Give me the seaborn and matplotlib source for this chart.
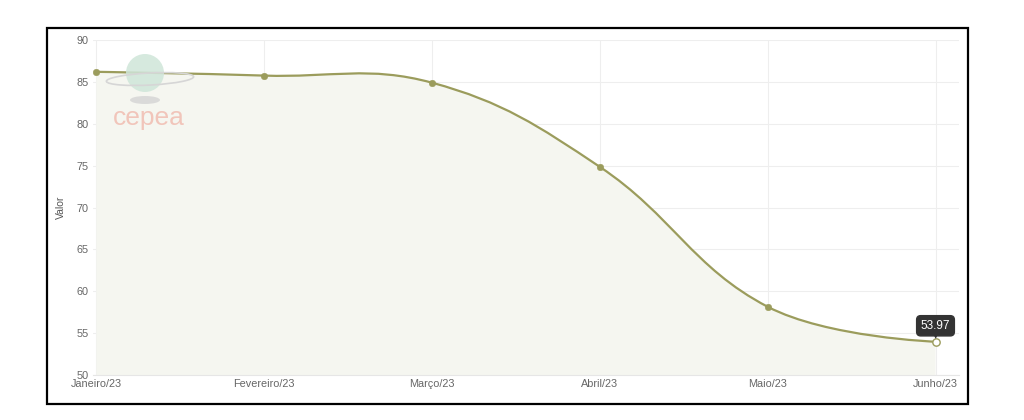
import numpy as np
import matplotlib
matplotlib.use('Agg')
import matplotlib.pyplot as plt
import seaborn as sns
from matplotlib.path import Path
from matplotlib.patches import PathPatch, Rectangle, Ellipse

meses = ['Janeiro/23', 'Fevereiro/23', 'Março/23', 'Abril/23', 'Maio/23', 'Junho/23']
valores = [86.2, 85.75, 84.9, 74.85, 58.15, 53.97]
yticks = [50, 55, 60, 65, 70, 75, 80, 85, 90]

linha = '#9b9c5c'
preench = '#f5f6f0'

sns.set_theme(style='white')
plt.rcParams['font.family'] = ['Liberation Sans', 'DejaVu Sans']

fig = plt.figure(figsize=(10.24, 4.2), dpi=100)
ax = fig.add_axes([93 / 1024, 1 - 375 / 420, (959 - 93) / 1024, (375 - 40) / 420])

x = np.arange(len(valores), dtype=float)
y = np.array(valores, dtype=float)

# escala aproximada em pixels (para distancias do spline)
px_x, px_y = 168.0, 8.375


# controles de bezier no estilo chart.js (tension 0.4)
def spline_path(x, y, t=0.4):
    n = len(x)
    P = np.column_stack([x * px_x, y * px_y])
    lc = [P[i] for i in range(n)]
    rc = [P[i] for i in range(n)]
    for i in range(1, n - 1):
        d01 = np.linalg.norm(P[i] - P[i - 1])
        d12 = np.linalg.norm(P[i + 1] - P[i])
        s01 = d01 / (d01 + d12)
        s12 = d12 / (d01 + d12)
        lc[i] = P[i] - t * s01 * (P[i + 1] - P[i - 1])
        rc[i] = P[i] + t * s12 * (P[i + 1] - P[i - 1])
    tod = lambda p: (p[0] / px_x, p[1] / px_y)
    verts = [tod(P[0])]
    codes = [Path.MOVETO]
    for i in range(1, n):
        verts += [tod(rc[i - 1]), tod(lc[i]), tod(P[i])]
        codes += [Path.CURVE4] * 3
    return verts, codes


verts, codes = spline_path(x, y)
fv = verts + [(x[-1], 50), (x[0], 50), (x[0], y[0])]
fc = codes + [Path.LINETO, Path.LINETO, Path.CLOSEPOLY]
ax.add_patch(PathPatch(Path(fv, fc), facecolor=preench, edgecolor='none', zorder=1))
ax.add_patch(PathPatch(Path(verts, codes), facecolor='none', edgecolor=linha, lw=1.6, zorder=3))

sns.scatterplot(x=x[:-1], y=y[:-1], ax=ax, color=linha, s=22, edgecolor=linha, zorder=4, legend=False)
ax.scatter([x[-1]], [y[-1]], s=28, facecolor='white', edgecolor=linha, lw=1, zorder=5)

ax.set_xlim(-0.02, 5.14)
ax.set_ylim(50, 90)
ax.set_xticks(x)
ax.set_xticklabels(meses)
ax.set_yticks(yticks)
ax.tick_params(axis='both', labelsize=7.8, colors='#666666', length=0, pad=3)
ax.set_ylabel('Valor', fontsize=7.5, color='#555555', labelpad=8)
ax.grid(True, color='#eeeeee', lw=0.8)
ax.set_axisbelow(True)
for s in ax.spines.values():
    s.set_visible(False)
ax.spines['bottom'].set_visible(True)
ax.spines['bottom'].set_color('#e6e6e6')
ax.spines['bottom'].set_linewidth(0.8)

# tooltip
ax.annotate(f'{valores[-1]:.2f}', xy=(x[-1], y[-1]), xytext=(0, 11.5), textcoords='offset points',
            ha='center', va='center', fontsize=8.5, color='white',
            bbox=dict(boxstyle='round,pad=0.35', fc='#333333', ec='#333333'), zorder=6)
ax.annotate('▼', xy=(x[-1], y[-1]), xytext=(0, 4.3), textcoords='offset points',
            ha='center', va='center', fontsize=5, color='#333333', zorder=6,
            family='DejaVu Sans')

# marca d'agua cepea
fig.patches.append(Ellipse((145 / 1024, 1 - 73 / 420), 38 / 1024, 38 / 420, transform=fig.transFigure,
                           facecolor='#cfe6d9', edgecolor='none', alpha=0.85, zorder=0))
fig.patches.append(Ellipse((150 / 1024, 1 - 79 / 420), 88 / 1024, 12 / 420, angle=8,
                           transform=fig.transFigure, facecolor='none', edgecolor='#d6d6d6',
                           lw=1.2, zorder=0))
fig.patches.append(Ellipse((145 / 1024, 1 - 100 / 420), 30 / 1024, 8 / 420, transform=fig.transFigure,
                           facecolor='#d4d4d4', edgecolor='none', alpha=0.8, zorder=0))
fig.text(149 / 1024, 1 - 118 / 420, 'cepea', ha='center', va='center', fontsize=19,
         color='#f0b9ad', alpha=0.8, zorder=10)

# moldura
fig.patches.append(Rectangle((47 / 1024, 1 - 404 / 420), (968 - 47) / 1024, (404 - 28) / 420,
                             transform=fig.transFigure, fill=False, edgecolor='black', lw=1.6))

fig.savefig('out.png', dpi=100, facecolor='white')
